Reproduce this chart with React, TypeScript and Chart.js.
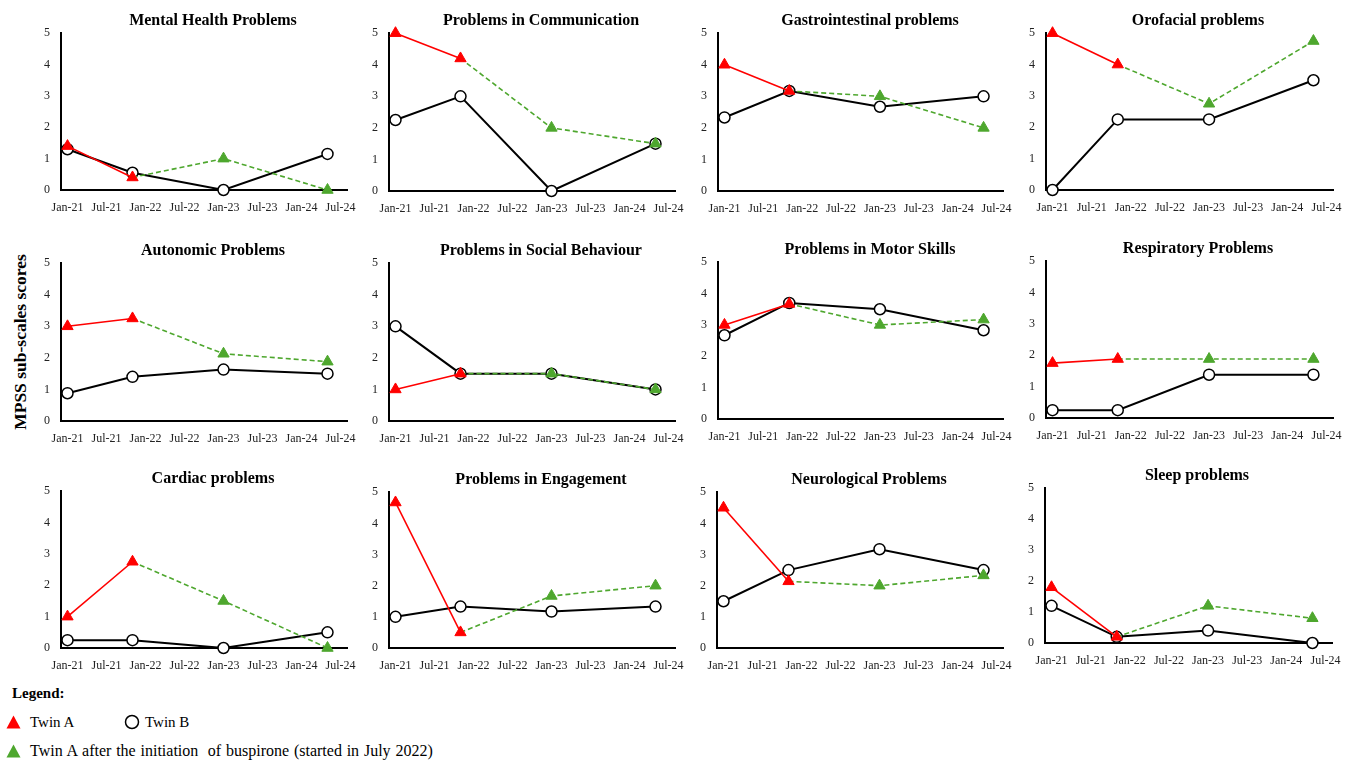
import React, { useEffect, useRef } from 'react';
import { Chart, registerables } from 'chart.js';

Chart.register(...registerables);

const FONT = "'Liberation Serif', 'Times New Roman', serif";
const RED = '#ff0000';
const GREEN = '#4ea72e';

// x axis: months after January 2021
const xTickValues = [0, 6, 12, 18, 24, 30, 36, 42];
const xTickLabels = ['Jan-21', 'Jul-21', 'Jan-22', 'Jul-22', 'Jan-23', 'Jul-23', 'Jan-24', 'Jul-24'];
const visitMonths = [0, 10, 24, 40];
const yMin = 0;
const yMax = 5;

const panelTitles = [
  'Mental Health Problems',
  'Problems in Communication',
  'Gastrointestinal problems',
  'Orofacial problems',
  'Autonomic Problems',
  'Problems in Social Behaviour',
  'Problems in Motor Skills',
  'Respiratory Problems',
  'Cardiac problems',
  'Problems in Engagement',
  'Neurological Problems',
  'Sleep problems',
];

// Twin A before buspirone (visits 1-2)
const mentalA = [1.4, 0.4];
const communicationA = [5, 4.2];
const gastroA = [4, 3.17];
const orofacialA = [5, 4];
const autonomicA = [3, 3.25];
const socialA = [1, 1.5];
const motorA = [3, 3.67];
const respiratoryA = [1.75, 1.88];
const cardiacA = [1, 2.75];
const engagementA = [4.67, 0.5];
const neuroA = [4.5, 2.14];
const sleepA = [1.8, 0.2];

// Twin A after buspirone (visits 3-4)
const mentalAfter = [1, 0];
const communicationAfter = [2, 1.5];
const gastroAfter = [3, 2];
const orofacialAfter = [2.75, 4.75];
const autonomicAfter = [2.13, 1.88];
const socialAfter = [1.5, 1];
const motorAfter = [3, 3.17];
const respiratoryAfter = [1.88, 1.88];
const cardiacAfter = [1.5, 0];
const engagementAfter = [1.67, 2];
const neuroAfter = [2, 2.33];
const sleepAfter = [1.2, 0.8];

// Twin B (visits 1-4)
const mentalB = [1.3, 0.55, 0, 1.15];
const communicationB = [2.25, 3, 0, 1.5];
const gastroB = [2.33, 3.17, 2.67, 3];
const orofacialB = [0, 2.25, 2.25, 3.5];
const autonomicB = [0.88, 1.4, 1.63, 1.5];
const socialB = [3, 1.5, 1.5, 1];
const motorB = [2.67, 3.7, 3.5, 2.83];
const respiratoryB = [0.25, 0.25, 1.38, 1.38];
const cardiacB = [0.25, 0.25, 0, 0.5];
const engagementB = [1, 1.33, 1.17, 1.33];
const neuroB = [1.5, 2.5, 3.17, 2.5];
const sleepB = [1.2, 0.2, 0.4, 0];

const seriesA = [mentalA, communicationA, gastroA, orofacialA, autonomicA, socialA, motorA, respiratoryA, cardiacA, engagementA, neuroA, sleepA];
const seriesAfter = [mentalAfter, communicationAfter, gastroAfter, orofacialAfter, autonomicAfter, socialAfter, motorAfter, respiratoryAfter, cardiacAfter, engagementAfter, neuroAfter, sleepAfter];
const seriesB = [mentalB, communicationB, gastroB, orofacialB, autonomicB, socialB, motorB, respiratoryB, cardiacB, engagementB, neuroB, sleepB];

// plot-area boxes on the page: [left, top, right, bottom]
const plotAreas = [
  [61, 33, 347, 190],
  [389, 33, 675, 191],
  [718, 33, 1003, 191],
  [1046, 33, 1333, 190],
  [61, 263, 347, 421],
  [389, 263, 675, 421],
  [718, 262, 1003, 419],
  [1046, 261, 1333, 418],
  [61, 491, 347, 648],
  [389, 492, 675, 648],
  [717, 492, 1003, 648],
  [1045, 488, 1332, 643],
];

const Y_AXIS_W = 28;
const X_AXIS_H = 26;
const TITLE_H = 24;
const CANVAS_W = 360;

function Panel({ index }: { index: number }) {
  const ref = useRef<HTMLCanvasElement>(null);
  const [l, t, r, b] = plotAreas[index];
  const left = l - Y_AXIS_W;
  const top = t - TITLE_H;
  const height = b - top + X_AXIS_H;
  const rightW = CANVAS_W - Y_AXIS_W - (r - l);

  useEffect(() => {
    const a = seriesA[index];
    const after = seriesAfter[index];
    const bb = seriesB[index];
    const tickFont = { size: 12, family: FONT };
    const chart = new Chart(ref.current as HTMLCanvasElement, {
      type: 'line',
      data: {
        datasets: [
          {
            label: 'Twin A',
            data: a.map((v, i) => ({ x: visitMonths[i], y: v })),
            borderColor: RED,
            backgroundColor: RED,
            borderWidth: 1.6,
            pointStyle: 'triangle',
            pointRadius: 6.5,
            pointBorderWidth: 1,
            pointBorderColor: RED,
            pointBackgroundColor: RED,
            clip: false,
            xAxisID: 'x',
            yAxisID: 'y',
          },
          {
            label: 'Twin A after buspirone',
            data: [
              { x: visitMonths[1], y: a[1] },
              { x: visitMonths[2], y: after[0] },
              { x: visitMonths[3], y: after[1] },
            ],
            borderColor: GREEN,
            backgroundColor: GREEN,
            borderWidth: 1.6,
            borderDash: [5, 3],
            pointStyle: 'triangle',
            pointRadius: [0, 6.5, 6.5],
            pointBorderWidth: 1,
            pointBorderColor: GREEN,
            pointBackgroundColor: GREEN,
            clip: false,
            xAxisID: 'x',
            yAxisID: 'y',
          },
          {
            label: 'Twin B',
            data: bb.map((v, i) => ({ x: visitMonths[i], y: v })),
            borderColor: '#000',
            backgroundColor: '#fff',
            borderWidth: 2,
            pointStyle: 'circle',
            pointRadius: 5.5,
            pointBorderWidth: 1.5,
            pointBorderColor: '#000',
            pointBackgroundColor: '#fff',
            clip: false,
            xAxisID: 'x',
            yAxisID: 'y',
          },
        ],
      },
      options: {
        animation: false,
        responsive: false,
        events: [],
        layout: { padding: 0 },
        plugins: {
          legend: { display: false },
          tooltip: { enabled: false },
          title: {
            display: true,
            text: panelTitles[index],
            color: '#000',
            font: { size: 16, weight: 'bold', family: FONT },
            padding: { top: 2, bottom: 3 },
          },
        },
        scales: {
          x: {
            type: 'linear',
            min: -1,
            max: 43,
            afterBuildTicks: (s: any) => {
              s.ticks = xTickValues.map((v) => ({ value: v }));
            },
            afterFit: (s: any) => {
              s.height = X_AXIS_H;
            },
            ticks: {
              autoSkip: false,
              maxRotation: 0,
              minRotation: 0,
              color: '#222',
              font: tickFont,
              callback: (_v: any, i: number) => xTickLabels[i],
            },
            grid: { display: false },
            border: { display: true, color: '#000', width: 2 },
          },
          y: {
            type: 'linear',
            min: yMin,
            max: yMax,
            afterFit: (s: any) => {
              s.width = Y_AXIS_W;
            },
            ticks: { stepSize: 1, color: '#222', font: tickFont },
            grid: { display: false },
            border: { display: true, color: '#000', width: 2 },
          },
          yr: {
            type: 'linear',
            position: 'right',
            min: yMin,
            max: yMax,
            afterFit: (s: any) => {
              s.width = rightW;
            },
            ticks: { display: false },
            grid: { display: false },
            border: { display: false },
          },
        },
      } as any,
    });
    return () => chart.destroy();
  }, [index]);

  return (
    <canvas
      ref={ref}
      width={CANVAS_W}
      height={height}
      style={{ position: 'absolute', left, top, width: CANVAS_W, height }}
    />
  );
}

const textStyle: React.CSSProperties = {
  position: 'absolute',
  fontFamily: FONT,
  fontSize: 15,
  lineHeight: '18px',
  color: '#000',
  whiteSpace: 'pre',
};

export default function App() {
  return (
    <div
      style={{
        position: 'absolute',
        left: 0,
        top: 0,
        width: 1356,
        height: 762,
        background: '#fff',
        overflow: 'hidden',
      }}
    >
      {panelTitles.map((_, i) => (
        <Panel key={i} index={i} />
      ))}
      <div
        style={{
          position: 'absolute',
          left: 20,
          top: 342,
          transform: 'translate(-50%, -50%) rotate(-90deg)',
          whiteSpace: 'nowrap',
          fontFamily: FONT,
          fontWeight: 'bold',
          fontSize: 17.5,
          color: '#000',
        }}
      >
        MPSS sub-scales scores
      </div>
      <div style={{ ...textStyle, left: 12, top: 684, fontWeight: 'bold' }}>Legend:</div>
      <svg style={{ position: 'absolute', left: 6, top: 715 }} width={15} height={14}>
        <polygon points="7.5,0.5 14.5,13.5 0.5,13.5" fill={RED} />
      </svg>
      <div style={{ ...textStyle, left: 30, top: 713 }}>Twin A</div>
      <svg style={{ position: 'absolute', left: 124, top: 714 }} width={16} height={16}>
        <circle cx={8} cy={8} r={6.5} fill="#fff" stroke="#000" strokeWidth={1.5} />
      </svg>
      <div style={{ ...textStyle, left: 145, top: 713 }}>Twin B</div>
      <svg style={{ position: 'absolute', left: 6, top: 744 }} width={15} height={14}>
        <polygon points="7.5,0.5 14.5,13.5 0.5,13.5" fill={GREEN} />
      </svg>
      <div style={{ ...textStyle, left: 30, top: 742, fontSize: 16, wordSpacing: '0.8px' }}>
        {'Twin A after the initiation  of buspirone (started in July 2022)'}
      </div>
    </div>
  );
}
